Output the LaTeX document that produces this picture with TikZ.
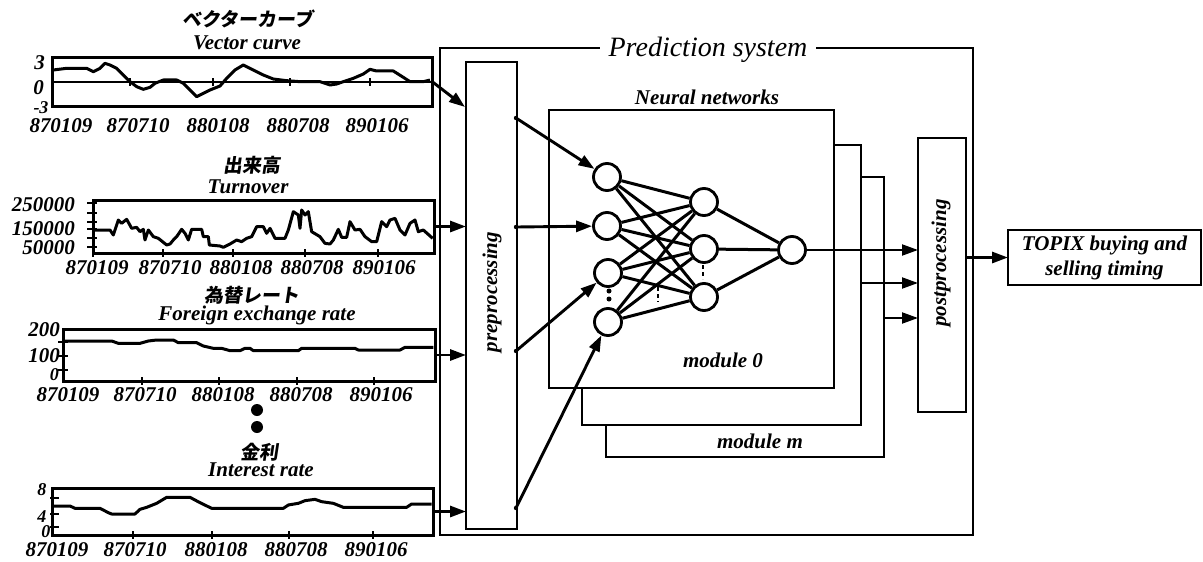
\documentclass[tikz,border=0pt]{standalone}
\usepackage{fontspec}
\setmainfont{Liberation Serif}
\newfontfamily\jpfont{Noto Sans CJK JP}[FakeSlant=0.15]
\usetikzlibrary{arrows.meta,calc}

% rectangle node from its two corners: name, x1, y1, x2, y2, style
\newcommand\placebox[6]{%
  \node[#6, minimum width={(#4)-(#2)}, minimum height={(#5)-(#3)}]
    (#1) at ({((#2)+(#4))/2},{((#3)+(#5))/2}) {};}

\begin{document}
\begin{tikzpicture}[x=1pt,y=-1pt,
  lbl/.style={font=\fontsize{21}{23}\selectfont\bfseries\itshape, inner sep=0pt},
  jlbl/.style={font=\fontsize{19}{21}\selectfont\jpfont\bfseries, inner sep=0pt},
  frame/.style={draw, line width=2.8pt, inner sep=0pt, outer sep=0pt},
  modbox/.style={frame, fill=white},
  plotbox/.style={draw, line width=3pt, inner sep=0pt, outer sep=0pt},
  curve/.style={line width=3pt, line join=round},
  tick/.style={line width=2.6pt},
  neuron/.style={circle, draw, line width=2.8pt, minimum size=27pt, inner sep=0pt, fill=white},
  link/.style={line width=3pt},
  arr/.style={line width=2.9pt, -{Triangle[length=16pt,width=11pt]}},
  thinarr/.style={line width=2pt, -{Triangle[length=16pt,width=11pt]}},
]
\useasboundingbox (0,0) rectangle (1203,562);

% ---------------- prediction system frame ----------------
\placebox{ps}{440}{48}{973}{535}{frame}
\node[fill=white, inner xsep=9pt, inner ysep=2pt,
      font=\fontsize{28}{30}\selectfont\itshape] (pstitle) at (708,50) {Prediction system};

\placebox{pre}{466}{62}{517}{529}{frame}
\node[lbl, rotate=90] (pretext) at (492,292) {preprocessing};

% stacked network modules
\placebox{m2}{606}{177}{884}{457}{modbox}
\placebox{m1}{582}{145}{861}{425}{modbox}
\placebox{m0}{549}{110}{834}{388}{modbox}
\node[lbl] (nntitle) at (707,97) {Neural networks};
\node[lbl] (mod0) at (723,360) {module 0};
\node[lbl] (modm) at (760,441) {module m};

% neurons
\node[neuron] (in1) at (607,177) {};
\node[neuron] (in2) at (607,226) {};
\node[neuron] (in3) at (608,273) {};
\node[neuron] (in4) at (608,322) {};
\node[neuron] (h1) at (704,202) {};
\node[neuron] (h2) at (704,249) {};
\node[neuron] (h3) at (704,297) {};
\node[neuron] (out) at (792,250) {};

\foreach \i in {in1,in2,in3,in4}
  \foreach \h in {h1,h2,h3}
    \draw[link] (\i) -- (\h);
\foreach \h in {h1,h2,h3}
  \draw[link] (\h) -- (out);

% elided units
\fill (609,291) circle (2.5pt) (609,299) circle (2.5pt);
\draw[line width=2.2pt, dash pattern=on 4pt off 3pt] (703,265) -- (703,279);
\draw[line width=1.5pt, dash pattern=on 4pt off 3pt] (658,287) -- (658,302);

% postprocessing and result
\placebox{post}{918}{138}{966}{412}{frame}
\node[lbl, rotate=90] (posttext) at (941,263) {postprocessing};
\node[frame, lbl, font=\fontsize{21}{25}\selectfont\bfseries\itshape, align=center,
      minimum width=193pt, minimum height=55pt] (topix) at (1104.5,257.5)
      {TOPIX buying and\\selling timing};

\coordinate (r2) at (861,283);
\coordinate (r3) at (884,318);
\draw[thinarr] (out) -- (out -| post.west);
\draw[thinarr] (r2) -- (r2 -| post.west);
\draw[thinarr] (r3) -- (r3 -| post.west);
\draw[arr] (post.east |- topix.west) -- (topix.west);

% preprocessing outputs
\coordinate (p1) at (516,118);
\coordinate (p2) at (516,227);
\coordinate (p3) at (516,351);
\coordinate (p4) at (516,508);
\draw[arr] (p1) -- (in1);
\draw[arr] (p2) -- (in2);
\draw[arr] (p3) -- (in3);
\draw[arr] (p4) -- (in4);
\fill (p1) circle (2.2pt) (p2) circle (2.2pt) (p3) circle (2.2pt) (p4) circle (2.2pt);

% ---------------- input series ----------------
% Vector curve
\node[jlbl] (t1j) at (248,19) {ベクターカーブ};
\node[lbl] (t1) at (247,43) {Vector curve};
\placebox{c1}{52}{57}{432}{106}{plotbox}
\draw[line width=1.6pt] (52,82) -- (432,82);
\foreach \x in {130,213,290,370} \draw[tick] (\x,78) -- (\x,86);
\begin{scope}[x=0.33333pt, y=-0.33333pt]
\draw[curve] (160,210)--(200,205)--(260,205)--(280,215)--(300,205)--(315,190)--(330,195)--(350,205)--(370,225)--(390,245)--(410,260)--(430,268)--(450,262)--(465,250)--(490,240)--(530,240)--(550,250)--(570,270)--(590,290)--(610,280)--(630,270)--(660,258)--(680,235)--(705,210)--(730,195)--(760,210)--(790,225)--(820,237)--(860,242)--(900,245)--(960,245)--(990,255)--(1010,252)--(1030,245)--(1060,235)--(1090,222)--(1110,208)--(1130,213)--(1180,213)--(1210,232)--(1230,245)--(1270,245)--(1290,240);
\end{scope}
\node[lbl, anchor=east] (c1y3) at (45,63) {3};
\node[lbl, anchor=east] (c1y0) at (44,88) {0};
\node[lbl, font=\fontsize{18}{20}\selectfont\bfseries\itshape] (c1ym) at (41,108) {-3};
\foreach \x/\t in {61/870109,138/870710,218/880108,298/880708,377/890106}
  \node[lbl] at (\x,126) {\t};

% Turnover
\node[jlbl] (t2j) at (252,165) {出来高};
\node[lbl] (t2) at (248,187) {Turnover};
\placebox{c2}{93}{200}{434}{253}{plotbox}
\foreach \y in {203,213,222,229,238,247} \draw[tick] (87,\y) -- (97,\y);
\foreach \x in {93,163,233,305,378} \draw[tick] (\x,249) -- (\x,257);
\begin{scope}[shift={(0,140)}, x=0.33333pt, y=-0.33333pt]
\draw[curve] (280,270)--(330,270)--(340,285)--(355,240)--(365,250)--(380,238)--(395,265)--(410,262)--(420,275)--(430,268)--(435,300)--(445,270)--(460,290)--(475,295)--(500,315)--(510,312)--(520,300)--(530,290)--(545,268)--(555,280)--(565,300)--(575,268)--(605,268)--(610,290)--(625,290)--(628,315)--(660,318)--(670,322)--(690,312)--(710,300)--(725,305)--(740,295)--(755,290)--(770,260)--(790,260)--(800,280)--(810,265)--(825,295)--(855,295)--(865,270)--(880,215)--(895,225)--(900,265)--(905,210)--(915,225)--(925,215)--(935,275)--(960,290)--(975,310)--(990,312)--(1000,300)--(1015,268)--(1025,292)--(1040,292)--(1050,245)--(1065,270)--(1080,268)--(1095,290)--(1115,305)--(1130,305)--(1145,245)--(1160,260)--(1170,240)--(1185,235)--(1200,270)--(1215,285)--(1230,250)--(1245,240)--(1255,275)--(1270,270)--(1298,295);
\end{scope}
\node[lbl, anchor=east] (c2a) at (75,205) {250000};
\node[lbl, anchor=east] (c2b) at (75,229) {150000};
\node[lbl, anchor=east] (c2c) at (75,248) {50000};
\foreach \x/\t in {97/870109,170/870710,241/880108,312/880708,384/890106}
  \node[lbl] at (\x,268) {\t};

% Foreign exchange rate
\node[jlbl] (t3j) at (252,295) {為替レート};
\node[lbl] (t3) at (257,315) {Foreign exchange rate};
\placebox{c3}{63}{329}{435}{381}{plotbox}
\foreach \y in {342,356,370} \draw[tick] (58,\y) -- (68,\y);
\foreach \x in {142,219,297,374} \draw[tick] (\x,377) -- (\x,385);
\begin{scope}[shift={(0,280)}, x=0.33333pt, y=-0.33333pt]
\draw[curve] (190,183)--(335,183)--(355,190)--(420,190)--(445,183)--(470,180)--(520,180)--(535,188)--(590,188)--(610,198)--(640,205)--(665,205)--(690,212)--(720,212)--(735,205)--(750,205)--(760,212)--(895,212)--(905,205)--(1065,205)--(1075,210)--(1200,210)--(1215,202)--(1300,202);
\end{scope}
\node[lbl, anchor=east] (c3a) at (60,330) {200};
\node[lbl, anchor=east] (c3b) at (60,356) {100};
\node[lbl, anchor=east, font=\fontsize{18}{20}\selectfont\bfseries\itshape] (c3c) at (59,375) {0};
\foreach \x/\t in {68/870109,145/870710,223/880108,301/880708,381/890106}
  \node[lbl] at (\x,395) {\t};

% ellipsis between series
\fill (257,410) circle (6pt);
\fill (257,427) circle (6pt);

% Interest rate
\node[jlbl] (t4j) at (259,452) {金利};
\node[lbl] (t4) at (261,470) {Interest rate};
\placebox{c4}{52}{488}{433}{535}{plotbox}
\foreach \y in {498,514,527} \draw[tick] (50,\y) -- (59,\y);
\foreach \x in {133,212,289,373} \draw[tick] (\x,531) -- (\x,539);
\begin{scope}[shift={(0,420)}, x=0.33333pt, y=-0.33333pt]
\draw[curve] (155,258)--(210,258)--(225,265)--(300,265)--(325,278)--(335,282)--(405,282)--(420,268)--(440,262)--(470,250)--(500,232)--(570,232)--(600,248)--(635,265)--(850,265)--(865,255)--(895,250)--(915,242)--(945,238)--(965,245)--(1000,250)--(1030,262)--(1220,262)--(1235,252)--(1295,252);
\end{scope}
\node[lbl, font=\fontsize{18}{20}\selectfont\bfseries\itshape] (c4a) at (42,490) {8};
\node[lbl, font=\fontsize{18}{20}\selectfont\bfseries\itshape] (c4b) at (42,517) {4};
\node[lbl, font=\fontsize{18}{20}\selectfont\bfseries\itshape] (c4c) at (46,532) {0};
\foreach \x/\t in {57/870109,135/870710,216/880108,296/880708,376/890106}
  \node[lbl] at (\x,550) {\t};

% series into preprocessing
\coordinate (q1) at (465,107);
\draw[arr] (c1.east) -- (q1);
\draw[arr] (c2.east) -- (c2.east -| pre.west);
\draw[arr] (c3.east) -- (c3.east -| pre.west);
\draw[arr] (c4.east) -- (c4.east -| pre.west);
\end{tikzpicture}
\end{document}
